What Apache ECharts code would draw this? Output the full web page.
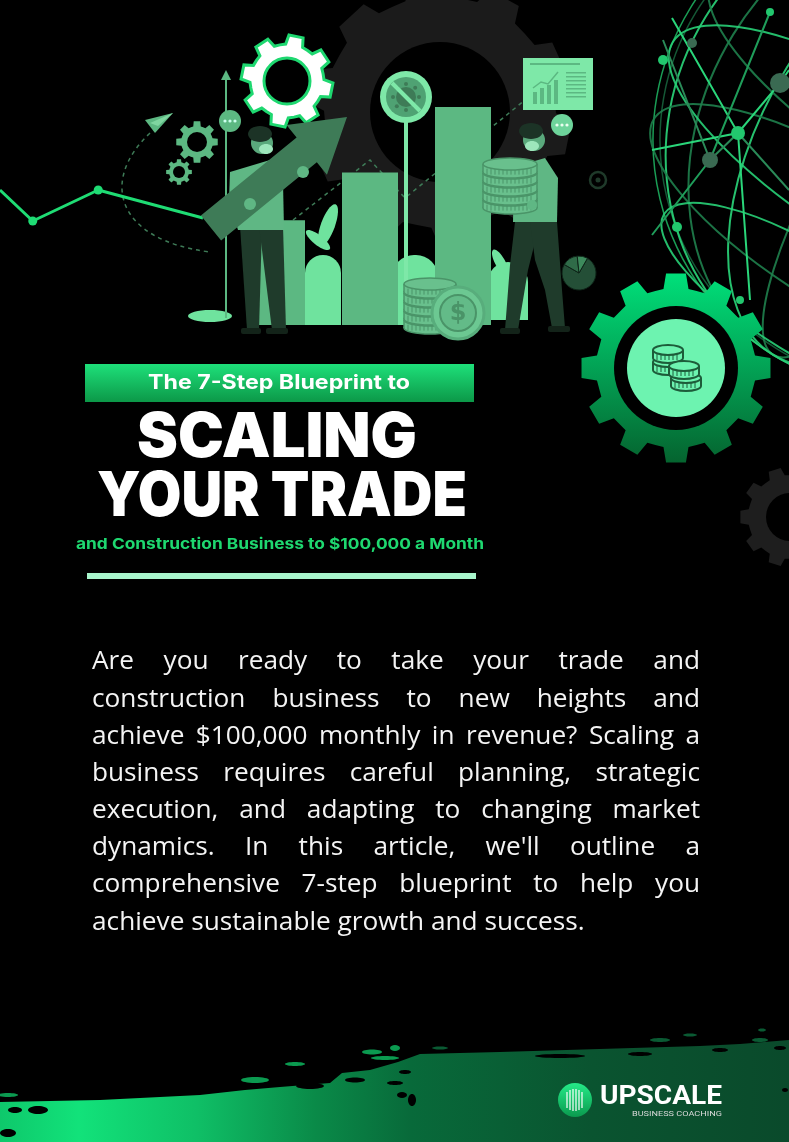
<!DOCTYPE html>
<html><head><meta charset="utf-8">
<script src="https://cdn.jsdelivr.net/npm/echarts/dist/echarts.min.js"></script>
<style>html,body{margin:0;padding:0;background:#000}#c{width:789px;height:1142px}</style>
</head><body><div id="c"></div>
<script>
// ---------- data ----------
const barCategories = ['A', 'B', 'C'];
const barValues = [48, 70, 100];
const trendPoints = [[0, 70], [10, 39], [30, 70], [62, 42]];
const pieValues = [75, 15, 10];
const bannerText = 'The 7-Step Blueprint to';
const titleLines = ['SCALING', 'YOUR TRADE'];
const subtitleText = 'and Construction Business to $100,000 a Month';
const paraLines = [
  'Are you ready to take your trade and',
  'construction business to new heights and',
  'achieve $100,000 monthly in revenue? Scaling a',
  'business requires careful planning, strategic',
  'execution, and adapting to changing market',
  "dynamics. In this article, we'll outline a",
  'comprehensive 7-step blueprint to help you',
  'achieve sustainable growth and success.'
];
const logoName = 'UPSCALE';
const logoSub = 'BUSINESS COACHING';

// ---------- helpers ----------
const mctx = document.createElement('canvas').getContext('2d');
function tw(t, font) { mctx.font = font; return mctx.measureText(t).width; }
const G = [];
function add(e, z) { e.z = (z === undefined ? 5 : z); G.push(e); return e; }
function circ(cx, cy, r, style, z) { return add({type:'circle', shape:{cx, cy, r}, style}, z); }
function ell(cx, cy, rx, ry, style, z, rot) { return add({type:'ellipse', x:cx, y:cy, rotation:rot||0, shape:{cx:0, cy:0, rx, ry}, style}, z); }
function poly(points, style, z) { return add({type:'polygon', shape:{points}, style}, z); }
function pline(points, style, z) { return add({type:'polyline', shape:{points}, style}, z); }
function rect(x, y, w, h, style, z, r) { return add({type:'rect', shape:{x, y, width:w, height:h, r:r||0}, style}, z); }
function seg(x1, y1, x2, y2, style, z) { return add({type:'line', shape:{x1, y1, x2, y2}, style}, z); }
function txt(x, y, text, font, fill, align, z, sx) {
  return add({type:'text', x, y, scaleX: sx||1, style:{x:0, y:0, text, font, fill, textAlign:align||'left', textVerticalAlign:'middle'}}, z);
}
function gearPts(cx, cy, ro, ri, n, rot) {
  const pts = []; const w = Math.PI / n; rot = rot || 0;
  const p = (r, a) => [cx + r * Math.cos(a), cy + r * Math.sin(a)];
  for (let i = 0; i < n; i++) {
    const a = rot + i * 2 * w;
    pts.push(p(ri, a - w * 0.6), p(ro, a - w * 0.4), p(ro, a + w * 0.4), p(ri, a + w * 0.6), p(ri * 0.995, a + w));
  }
  return pts;
}
function gear(cx, cy, ro, ri, n, hole, fill, z, stroke, lw, rot) {
  poly(gearPts(cx, cy, ro, ri, n, rot), {fill, stroke: stroke || 'none', lineWidth: lw || 0}, z);
  if (hole) circ(cx, cy, hole, {fill:'#000', stroke: stroke || 'none', lineWidth: lw || 0}, z);
}
function coin(cx, cy, rx, ry, h, fill, stroke, z, lw) {
  lw = lw || 1.5;
  ell(cx, cy + h, rx, ry, {fill, stroke, lineWidth: lw}, z);
  rect(cx - rx, cy, 2 * rx, h, {fill}, z);
  seg(cx - rx, cy, cx - rx, cy + h, {stroke, lineWidth: lw}, z);
  seg(cx + rx, cy, cx + rx, cy + h, {stroke, lineWidth: lw}, z);
  for (let k = -rx + 4; k < rx - 2; k += 4) seg(cx + k, cy + ry * 0.6 + 1, cx + k, cy + h + ry * 0.6 - 1, {stroke, lineWidth: 1}, z);
  ell(cx, cy, rx, ry, {fill, stroke, lineWidth: lw}, z);
}

// ---------- background: globe ----------
(function globe() {
  const gx = 905, gy = 140, gr = 252;
  const ch = [];
  const st = (c, w, o) => ({fill:'none', stroke:c, lineWidth:w, opacity:o});
  ch.push({type:'circle', shape:{cx:0, cy:0, r:gr}, style:st('#1fb864', 1.5, 0.85)});
  ch.push({type:'circle', shape:{cx:0, cy:0, r:gr - 7}, style:st('#1a6e43', 1.5, 0.8)});
  [0.25, 0.55, 0.8, 0.93].forEach((k, i) => {
    ch.push({type:'ellipse', shape:{cx:0, cy:0, rx:gr * k, ry:gr}, style:st(i % 2 ? '#2ad67a' : '#1f7f4c', 2, 0.9)});
  });
  [-0.75, -0.45, -0.15, 0.15, 0.45, 0.75].forEach((s, i) => {
    const rx = gr * Math.sqrt(1 - s * s);
    ch.push({type:'ellipse', shape:{cx:0, cy:gr * s, rx, ry:rx * 0.32}, style:st(i % 2 ? '#28d077' : '#1f7f4c', 2, 0.9)});
  });
  add({type:'group', x:gx, y:gy, rotation:-0.55, children:ch}, 0);
  pline([[652,150],[738,133],[780,83],[789,70]], {stroke:'#2ad67a', lineWidth:2}, 0);
  pline([[663,40],[710,160],[738,133],[789,190]], {stroke:'#2a8a58', lineWidth:2}, 0);
  pline([[672,18],[738,133],[750,300]], {stroke:'#2ad67a', lineWidth:2}, 0);
  pline([[652,235],[710,160],[770,12]], {stroke:'#1f9d5a', lineWidth:2}, 0);
  [[738,133,7,'#22c76e'],[780,83,10,'#3a6a52'],[710,160,8,'#3a6a52'],[663,60,5,'#22c76e'],[770,12,4,'#22c76e'],[677,227,5,'#22c76e'],[740,300,4,'#22c76e'],[692,43,5,'#3a6a52']].forEach(n => circ(n[0], n[1], n[2], {fill:n[3]}, 0));
})();

// big dark gear behind the illustration
gear(440, 112, 132, 116, 10, 70, '#1b1b1b', 0, null, 0, 0.2);
// bottom right dark gear
gear(790, 517, 50, 42, 10, 24, '#1e1e1e', 0);

// ---------- illustration ----------
const LG = '#5cb882', LG2 = '#7ee8a8', DG = '#3e7b57', DK = '#1f3b2b', BU = '#6fe39e';
// ground blobs and bushes (behind bars)
ell(210, 316, 22, 6, {fill:BU}, 1);
ell(328, 225, 7, 22, {fill:BU}, 1, -0.35);
ell(318, 240, 5, 15, {fill:BU}, 1, 0.9);
rect(305, 255, 36, 70, {fill:BU}, 1, [18, 18, 0, 0]);
rect(392, 255, 46, 70, {fill:BU}, 1, [22, 22, 0, 0]);
rect(488, 262, 40, 58, {fill:BU}, 1, [20, 20, 0, 0]);
ell(500, 262, 5, 14, {fill:BU}, 1, 0.5);
// vertical axis arrow
seg(226, 78, 226, 318, {stroke:LG, lineWidth:2}, 1);
poly([[226,70],[221,80],[231,80]], {fill:LG}, 1);
// dashed trend and curve
pline([[293,220],[370,160],[405,198],[525,100]], {stroke:DG, lineWidth:1.5, lineDash:[4,4]}, 1);
add({type:'bezierCurve', shape:{x1:150, y1:133, cpx1:100, cpy1:180, cpx2:115, cpy2:240, x2:210, y2:252}, style:{fill:'none', stroke:DG, lineWidth:1.5, lineDash:[4,4]}}, 1);
// paper plane
poly([[145,120],[173,113],[155,133]], {fill:LG}, 3);
poly([[150,123],[173,113],[158,126]], {fill:'#7fd6a0'}, 3);
// small gears
gear(197, 142, 21, 16, 8, 10, LG, 3);
gear(179, 172, 13, 10, 8, 6, LG, 3);
// speech bubbles
circ(230, 121, 11, {fill:LG}, 3);
[225,230,235].forEach(x => circ(x, 121, 1.6, {fill:'#cfe'}, 3));
circ(562, 125, 11, {fill:'#6ed49b'}, 3);
[557,562,567].forEach(x => circ(x, 125, 1.6, {fill:'#eaffef'}, 3));
// white gear
gear(287, 81, 46, 37, 8, 23, '#ffffff', 3, '#1ed870', 3, 0.2);
// sign
rect(404, 118, 4, 207, {fill:LG2}, 1);
circ(406, 97, 26, {fill:LG2}, 3);
circ(406, 97, 20, {fill:'#4fa273'}, 3);
circ(406, 97, 10, {fill:'#3e7b57'}, 3);
for (let k = 0; k < 8; k++) { const a = k * Math.PI / 4; circ(406 + 13 * Math.cos(a), 97 + 13 * Math.sin(a), 2, {fill:'#3e7b57'}, 3); }
seg(392, 83, 420, 111, {stroke:LG2, lineWidth:4}, 3);
// chart board
rect(523, 58, 70, 52, {fill:LG2}, 3);
rect(530, 63, 50, 2, {fill:LG}, 3);
[[533,92,4,12],[540,88,4,16],[547,85,4,19],[554,80,4,24]].forEach(b => rect(b[0], b[1], b[2], b[3], {fill:LG}, 3));
pline([[533,88],[541,82],[548,84],[558,72]], {stroke:LG, lineWidth:1.5}, 3);
for (let k = 0; k < 7; k++) rect(566, 72 + k * 4, 20, 1.5, {fill:LG}, 3);
// target
circ(598, 180, 8, {fill:'none', stroke:'#1f3a2a', lineWidth:2.5}, 3);
circ(598, 180, 2.5, {fill:'#1f3a2a'}, 3);

// front: coins near bars
for (let k = 0; k < 5; k++) coin(430, 320 - k * 9, 26, 6, 8, '#69c08d', '#4a9468', 8);
circ(458, 313, 26, {fill:'#6cc892', stroke:'#58ad7c', lineWidth:3}, 9);
circ(458, 313, 18, {fill:'#63bb88', stroke:'#4a9468', lineWidth:2}, 9);
txt(458, 314, '$', '700 24px "DejaVu Sans"', '#4a9468', 'center', 9);

// man 1
poly([[240,226],[262,226],[259,330],[247,330]], {fill:DK}, 10);
poly([[259,226],[283,226],[286,330],[272,330]], {fill:DK}, 10);
rect(241, 328, 20, 6, {fill:'#132319'}, 10, 2);
rect(266, 328, 22, 6, {fill:'#132319'}, 10, 2);
poly([[230,172],[270,160],[283,182],[284,230],[238,230],[229,200]], {fill:'#5fb784'}, 10);
circ(262, 143, 11, {fill:'#5aa97c'}, 10);
ell(260, 134, 12, 8, {fill:'#1c3326'}, 10);
ell(266, 149, 7, 5, {fill:'#9de6bb'}, 10);
// big arrow
(function () {
  const tx = 211, ty = 228, hx = 347, hy = 117;
  const dx = hx - tx, dy = hy - ty, L = Math.hypot(dx, dy), ux = dx / L, uy = dy / L, nx = -uy, ny = ux;
  const sw = 16, hw = 32, hl = 52;
  const P = (a, b) => [tx + ux * a + nx * b, ty + uy * a + ny * b];
  poly([P(0, sw), P(L - hl, sw), P(L - hl, hw), P(L, 0), P(L - hl, -hw), P(L - hl, -sw), P(0, -sw)], {fill:'#3e7b57'}, 11);
})();
circ(303, 172, 6, {fill:'#5fb784'}, 12);
circ(250, 204, 6, {fill:'#5fb784'}, 12);
// man 2
poly([[515,222],[540,222],[528,270],[518,330],[505,330],[510,265]], {fill:DK}, 10);
poly([[530,222],[557,222],[562,290],[565,328],[552,328],[545,290],[535,260]], {fill:DK}, 10);
rect(500, 328, 20, 6, {fill:'#132319'}, 10, 2);
rect(548, 326, 22, 6, {fill:'#132319'}, 10, 2);
poly([[514,167],[545,158],[558,178],[557,222],[513,222]], {fill:'#5fb784'}, 10);
circ(534, 140, 11, {fill:'#5aa97c'}, 10);
ell(531, 131, 12, 8, {fill:'#1c3326'}, 10);
ell(532, 146, 7, 5, {fill:'#9de6bb'}, 10);
for (let k = 0; k < 5; k++) coin(510, 200 - k * 9, 27, 6, 8, '#69c08d', '#4a9468', 11);
circ(532, 205, 5, {fill:'#5fb784'}, 12);

// ---------- right green gear ----------
poly(gearPts(676, 368, 95, 80, 12, -Math.PI / 2), {fill:{type:'linear', x:0, y:0, x2:0, y2:1, colorStops:[{offset:0, color:'#00e07a'}, {offset:1, color:'#05642f'}]}}, 6);
circ(676, 368, 62, {fill:'#000'}, 6);
circ(676, 368, 49, {fill:'#6df3b0'}, 6);
coin(668, 362, 15, 5, 8, '#6df3b0', '#1d5c3a', 7, 2);
coin(668, 350, 15, 5, 8, '#6df3b0', '#1d5c3a', 7, 2);
coin(686, 378, 15, 5, 8, '#6df3b0', '#1d5c3a', 7, 2);
coin(684, 366, 15, 5, 8, '#6df3b0', '#1d5c3a', 7, 2);

// ---------- titles ----------
rect(85, 364, 389, 38, {fill:{type:'linear', x:0, y:0, x2:0, y2:1, colorStops:[{offset:0, color:'#1ee07a'}, {offset:1, color:'#0c9848'}]}}, 5);
(function () {
  const f1 = '700 20px Inter';
  txt(279, 383, bannerText, f1, '#ffffff', 'center', 6, 262 / tw(bannerText, f1));
  const f2 = '900 62px Inter';
  txt(277, 438, titleLines[0], f2, '#ffffff', 'center', 6, 280 / tw(titleLines[0], f2));
  txt(282, 497, titleLines[1], f2, '#ffffff', 'center', 6, 370 / tw(titleLines[1], f2));
  const f3 = '700 15px Inter';
  txt(280, 544, subtitleText, f3, '#1ed870', 'center', 6, 408 / tw(subtitleText, f3));
})();
rect(87, 573, 389, 6, {fill:'#a8f5cc'}, 5);

// ---------- paragraph (justified) ----------
(function () {
  const left = 92, right = 700, W = right - left;
  let fs = 24;
  fs = fs * 493 / tw(paraLines[paraLines.length - 1], fs + 'px "Open Sans"');
  const font = fs + 'px "Open Sans"';
  paraLines.forEach((line, i) => {
    const y = 662 + i * 37.15;
    if (i === paraLines.length - 1) { txt(left, y, line, font, '#f4f4f4', 'left', 6); return; }
    const words = line.split(' ');
    const ws = words.map(w => tw(w, font));
    const gap = (W - ws.reduce((a, b) => a + b, 0)) / (words.length - 1);
    let x = left;
    words.forEach((w, j) => { txt(x, y, w, font, '#f4f4f4', 'left', 6); x += ws[j] + gap; });
  });
})();

// ---------- bottom brush ----------
poly([[0,1102],[100,1100],[200,1095],[245,1090],[280,1087],[330,1083],[342,1073],[370,1070],[398,1062],[420,1054],[500,1052],[633,1048],[700,1046],[740,1044],[789,1040],[789,1142],[0,1142]],
  {fill:{type:'linear', x:0, y:0, x2:1, y2:0, colorStops:[{offset:0, color:'#0ec86b'}, {offset:0.1, color:'#12e27a'}, {offset:0.25, color:'#0fbf66'}, {offset:0.4, color:'#0a8a48'}, {offset:0.52, color:'#086a3a'}, {offset:0.75, color:'#0a5430'}, {offset:1, color:'#0a4a2b'}]}}, 1);
[[15,1110,7,3],[38,1110,10,4],[8,1133,8,4],[310,1086,14,3],[355,1080,10,2.5],[395,1083,8,2],[405,1072,6,2],[402,1095,5,3],[412,1100,4,6],[560,1056,25,2],[640,1054,12,2],[720,1050,8,2],[780,1048,6,2],[785,1090,3,2]].forEach(e => ell(e[0], e[1], e[2], e[3], {fill:'#000'}, 2));
[[8,1095,10,2],[255,1080,14,3],[295,1064,10,2],[372,1052,10,2.5],[385,1058,14,2],[395,1048,5,3],[440,1048,8,1.5],[660,1040,10,2],[690,1035,7,1.5],[760,1040,8,2],[762,1030,4,1.5]].forEach((e, i) => ell(e[0], e[1], e[2], e[3], {fill: i < 6 ? '#0b9a50' : '#0a5a33'}, 2));

// logo
circ(575, 1100, 17, {fill:{type:'linear', x:0, y:0, x2:0, y2:1, colorStops:[{offset:0, color:'#25ea88'}, {offset:1, color:'#0a9a4e'}]}}, 6);
[[567,1092,1108],[570,1090,1110],[573,1089,1111],[576,1089,1111],[579,1090,1110],[582,1092,1108]].forEach(l => seg(l[0], l[1], l[0], l[2], {stroke:'#ffffff', lineWidth:1.2}, 7));
(function () {
  const f = '700 26px Roboto';
  txt(600, 1097, logoName, f, '#ffffff', 'left', 7, 122 / tw(logoName, f));
  const f2 = '400 8px Roboto';
  txt(722, 1114, logoSub, f2, '#d8d8d8', 'right', 7, 90 / tw(logoSub, f2));
})();

// ---------- chart ----------
const chart = echarts.init(document.getElementById('c'), null, {renderer:'canvas'});
chart.setOption({
  backgroundColor:'#000000',
  animation:false,
  grid:[
    {left:230.5, top:107, width:279, height:218},
    {left:0, top:160, width:203, height:100}
  ],
  xAxis:[
    {gridIndex:0, type:'category', data:barCategories, show:false},
    {gridIndex:1, type:'value', min:0, max:62, show:false}
  ],
  yAxis:[
    {gridIndex:0, type:'value', min:0, max:100, show:false},
    {gridIndex:1, type:'value', min:0, max:100, show:false}
  ],
  series:[
    {type:'bar', xAxisIndex:0, yAxisIndex:0, data:barValues, barWidth:56, z:2,
     itemStyle:{color:'#5cb882'}, silent:true},
    {type:'line', xAxisIndex:1, yAxisIndex:1, data:trendPoints, z:2, silent:true,
     lineStyle:{color:'#1fdc74', width:3}, itemStyle:{color:'#1fdc74'}, symbol:'circle',
     symbolSize:(v, p) => (p.dataIndex === 0 || p.dataIndex === trendPoints.length - 1) ? 0 : 9, showSymbol:true},
    {type:'pie', center:[579, 273], radius:17, data:pieValues.map(v => ({value:v})), startAngle:60, z:3, silent:true,
     label:{show:false}, labelLine:{show:false}, color:['#244f37', '#2f6b48', '#3d8a5c'],
     itemStyle:{borderColor:'#0e2418', borderWidth:1}}
  ],
  graphic:{elements:G}
});
</script>
</body></html>
